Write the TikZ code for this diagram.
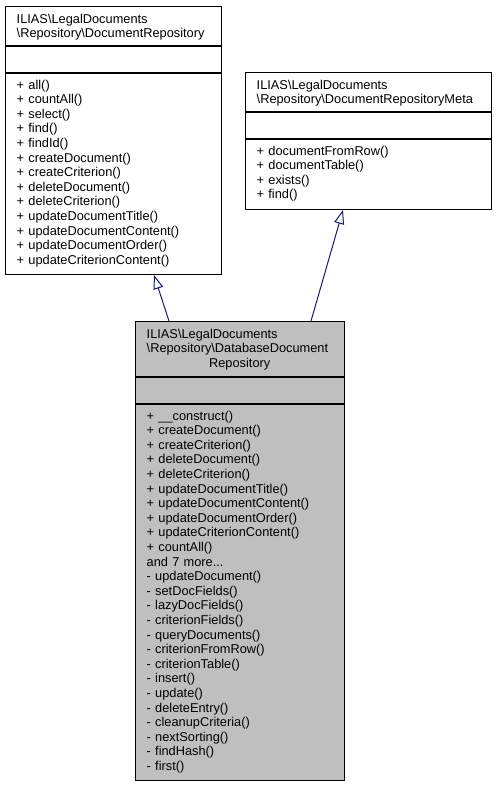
\documentclass[tikz,border=0pt]{standalone}
\usepackage{fontspec}
\setmainfont{Liberation Sans}
\usetikzlibrary{arrows.meta}
\definecolor{dbfill}{RGB}{191,191,191}
\definecolor{edgeblue}{RGB}{25,25,112}
\begin{document}
\begin{tikzpicture}[
    x=1pt, y=-1pt,
    part/.style={rectangle, draw=black, line width=1pt, fill=white, inner sep=0pt, anchor=north west},
    hilite/.style={fill=dbfill},
    txt/.style={anchor=base west, inner sep=0pt, align=left, font=\fontsize{12.8}{14.6}\selectfont},
    inherit/.style={draw=edgeblue, line width=1pt, -{Triangle[open, length=14pt, width=10pt, fill=white]}} % Stile per l'ereditarieta
]
\useasboundingbox (0,0) rectangle (496,785);
% DocumentRepository
\node[part, minimum width=216pt, minimum height=39pt] (repoT) at (5,6) {};
\node[part, minimum width=216pt, minimum height=26pt] (repoA) at (repoT.south west) {};
\node[part, minimum width=216pt, minimum height=201pt] (repoM) at (repoA.south west) {};
\node[txt, text width=193pt] (repoTt) at ([xshift=11.5pt, yshift=-17pt]repoT.north west)
    {ILIAS\textbackslash LegalDocuments\\\textbackslash Repository\textbackslash DocumentRepository};
\node[txt, text width=193pt] (repoMt) at ([xshift=11.5pt, yshift=-16pt]repoM.north west)
    {+ all()\\+ countAll()\\+ select()\\+ find()\\+ findId()\\+ createDocument()\\+ createCriterion()\\+ deleteDocument()\\+ deleteCriterion()\\+ updateDocumentTitle()\\+ updateDocumentContent()\\+ updateDocumentOrder()\\+ updateCriterionContent()};
% DocumentRepositoryMeta
\node[part, minimum width=246pt, minimum height=39pt] (metaT) at (245,72) {};
\node[part, minimum width=246pt, minimum height=26pt] (metaA) at (metaT.south west) {};
\node[part, minimum width=246pt, minimum height=70pt] (metaM) at (metaA.south west) {};
\node[txt, text width=223pt] (metaTt) at ([xshift=11.5pt, yshift=-17pt]metaT.north west)
    {ILIAS\textbackslash LegalDocuments\\\textbackslash Repository\textbackslash DocumentRepositoryMeta};
\node[txt, text width=223pt] (metaMt) at ([xshift=11.5pt, yshift=-16pt]metaM.north west)
    {+ documentFromRow()\\+ documentTable()\\+ exists()\\+ find()};
% DatabaseDocumentRepository
\node[part, hilite, minimum width=209pt, minimum height=55pt] (dbT) at (135,321) {};
\node[part, hilite, minimum width=209pt, minimum height=26pt] (dbA) at (dbT.south west) {};
\node[part, hilite, minimum width=209pt, minimum height=376pt] (dbM) at (dbA.south west) {};
\node[txt, text width=186pt] (dbTt) at ([xshift=11.5pt, yshift=-17pt]dbT.north west)
    {ILIAS\textbackslash LegalDocuments\\\textbackslash Repository\textbackslash DatabaseDocument\\\hspace*{\fill}Repository\hspace*{\fill}\mbox{}};
\node[txt, text width=186pt] (dbMt) at ([xshift=11.5pt, yshift=-16pt]dbM.north west)
    {+ \_\_construct()\\+ createDocument()\\+ createCriterion()\\+ deleteDocument()\\+ deleteCriterion()\\+ updateDocumentTitle()\\+ updateDocumentContent()\\+ updateDocumentOrder()\\+ updateCriterionContent()\\+ countAll()\\and 7 more...\\- updateDocument()\\- setDocFields()\\- lazyDocFields()\\- criterionFields()\\- queryDocuments()\\- criterionFromRow()\\- criterionTable()\\- insert()\\- update()\\- deleteEntry()\\- cleanupCriteria()\\- nextSorting()\\- findHash()\\- first()};
% ereditarieta
\draw[inherit] ([xshift=34pt]dbT.north west) -- ([xshift=149pt]repoM.south west);
\draw[inherit] ([xshift=176pt]dbT.north west) -- ([xshift=98pt]metaM.south west);
\end{tikzpicture}
\end{document}
